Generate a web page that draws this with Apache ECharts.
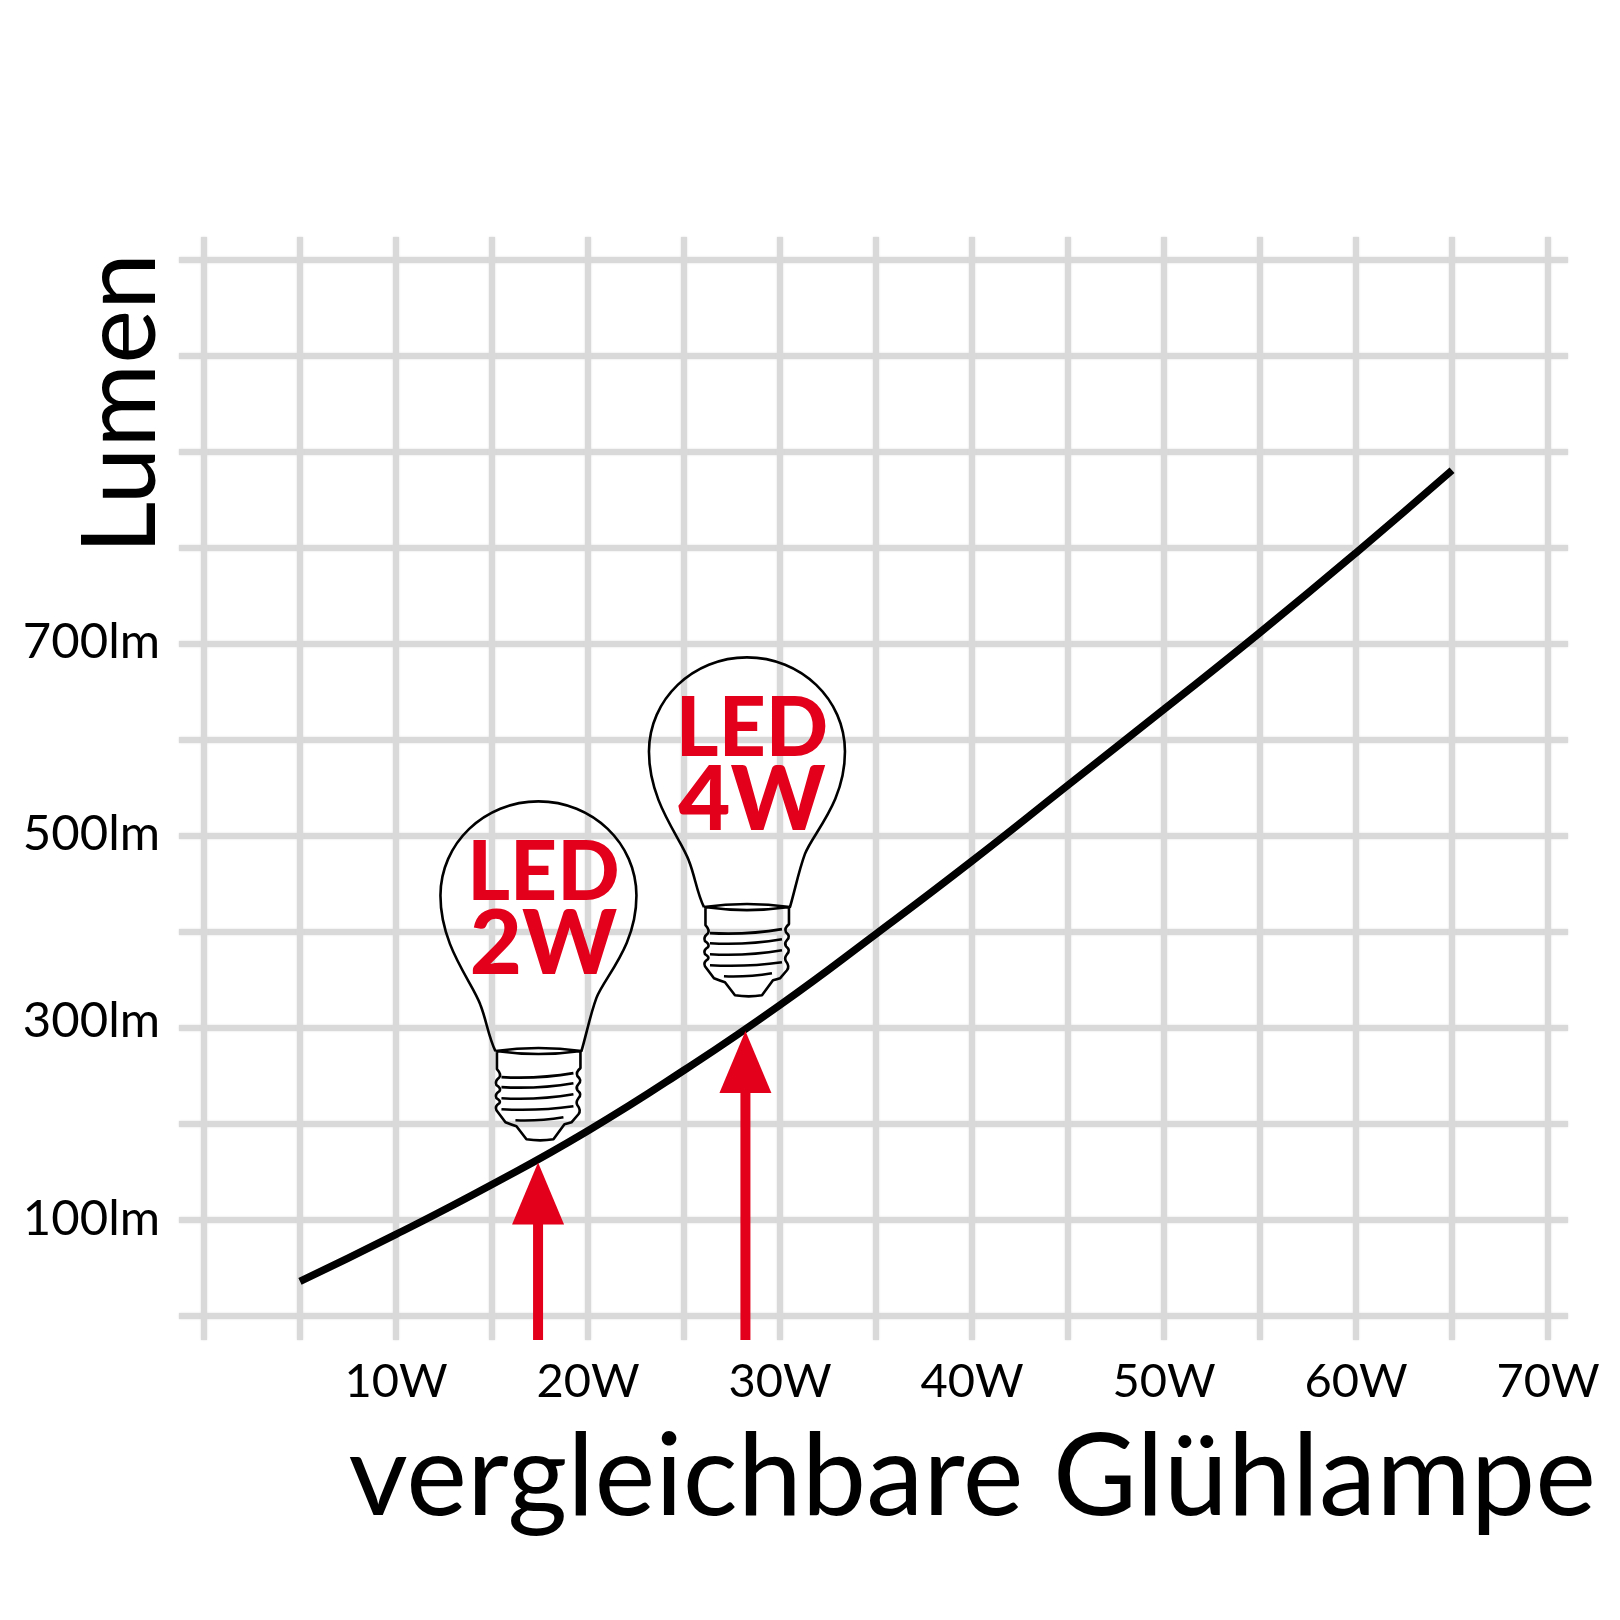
<!DOCTYPE html>
<html><head><meta charset="utf-8">
<style>html,body{margin:0;padding:0;background:#fff}#c{width:1620px;height:1620px}</style>
<script src="https://cdn.jsdelivr.net/npm/echarts@6/dist/echarts.min.js"></script>
</head><body><div id="c"></div>
<script>
const gridWatts=[0,5,10,15,20,25,30,35,40,45,50,55,60,65,70];
const gridLumen=[0,100,200,300,400,500,600,700,800,900,1000,1100];
const wattLabels=[10,20,30,40,50,60,70];
const lumenLabels=[100,300,500,700];
const curveWatts=[5,10,15,20,25,30,35,40,45,50,55,60,65];
const curveLumen=[36,85,137,193,256,324,398,474,553,632,712,795,881];
const arrowWatts=[17.4,28.2];
const arrowLumen=[160,297];
const bulbWatts=[17.42,28.28];
const bulbLumen=[183,333];
const bulbLine1=['LED','LED'];
const bulbLine2=['2W','4W'];
const RED='#e2001a', GRID='#d9d9d9', FONT='Lato';
const BULB='M-43 249C-50 235-52 218-58 203C-66 180-98 145-98 94C-98 42-54 0 0 0C54 0 98 42 98 94C98 145 66 175 58 196C52 212 48 232 43 249'
+'M-43 249Q0 243 43 249Q0 255-43 249'
+'M-41.5 250L-41.5 267Q-37 272-39 275Q-44 279-42 283Q-37 286-39 289Q-44 292-42 296Q-37 299-39 301Q-44 304-42 308L-33 320Q-28 322-22 324L-12 337Q2 339 15 337L26 322Q30 321 33 320L40 312Q43 308 39 303Q37 300 40 296Q44 292 39 288Q37 285 40 282Q44 278 39 274Q37 270 42 266L42 250'
+'M-37 275Q0 277 35 271M-37 285Q0 287 35 281M-37 296Q0 298 35 292M-37 307Q0 309 35 304M-23 318Q0 319 25 315';
const chart=echarts.init(document.getElementById('c'),null,{renderer:'canvas'});
const arrowData=arrowWatts.map((w,i)=>[w,arrowLumen[i]]);
const bulbData=bulbWatts.map((w,i)=>[w,bulbLumen[i],i]);
const tick={color:'#000',fontFamily:FONT,fontSize:49};
chart.setOption({
 animation:false,backgroundColor:'#fff',
 grid:{left:179,top:237,width:1389,height:1103,outerBoundsMode:'none',containLabel:false},
 xAxis:{type:'value',min:-1.3,max:71.04,
  axisLine:{show:false},
  axisTick:{show:false,customValues:gridWatts},
  splitLine:{show:true,lineStyle:{color:GRID,width:6,shadowColor:GRID,shadowBlur:2}},
  axisLabel:{customValues:wattLabels,formatter:v=>v+'W',margin:18,color:'#000',fontFamily:FONT,fontSize:47,hideOverlap:false},
  name:'vergleichbare Glühlampe',nameLocation:'end',nameGap:28,
  nameTextStyle:{color:'#000',fontFamily:FONT,fontSize:115,align:'right',verticalAlign:'top',padding:[104,0,0,0]}},
 yAxis:{type:'value',min:-25,max:1124,
  axisLine:{show:false},
  axisTick:{show:false,customValues:gridLumen},
  splitLine:{show:true,lineStyle:{color:GRID,width:6,shadowColor:GRID,shadowBlur:2}},
  axisLabel:{customValues:lumenLabels,formatter:v=>`{s${v}|${v}lm}`,margin:19,color:'#000',fontFamily:FONT,fontSize:49,
   rich:{s100:{...tick,padding:[0,0,2,0]},s300:{...tick,padding:[0,0,14,0]},s500:{...tick,padding:[0,0,4,0]},s700:{...tick,padding:[0,0,4,0]}}},
  name:'Lumen',nameLocation:'end',nameRotate:90,nameGap:-16,
  nameTextStyle:{color:'#000',fontFamily:FONT,fontSize:102,align:'right',verticalAlign:'bottom',padding:[0,0,31,0]}},
 series:[
  {type:'line',data:curveWatts.map((w,i)=>[w,curveLumen[i]]),smooth:0.5,showSymbol:false,silent:true,z:3,
   lineStyle:{color:'#000',width:7.5,cap:'butt'}},
  {type:'custom',data:arrowData,z:4,silent:true,
   renderItem(p,api){
    const t=api.coord([api.value(0),api.value(1)]);
    const b=p.coordSys.y+p.coordSys.height;
    return {type:'group',children:[
     {type:'rect',shape:{x:t[0]-5,y:t[1]+60,width:10,height:b-t[1]-60},style:{fill:RED}},
     {type:'polygon',shape:{points:[[t[0],t[1]],[t[0]+26,t[1]+62],[t[0]-26,t[1]+62]]},style:{fill:RED}}
    ]};
   }},
  {type:'custom',data:bulbData,z:5,silent:true,
   renderItem(p,api){
    const a=api.coord([api.value(0),api.value(1)]);
    const i=api.value(2), cx=a[0], top=a[1]-339;
    return {type:'group',children:[
     {type:'path',shape:{pathData:BULB,layout:'cover',x:cx-98,y:top,width:196,height:339},
      style:{fill:'none',stroke:'#000',lineWidth:2.6,lineJoin:'round'}},
     {type:'text',style:{text:bulbLine1[i],x:cx+5,y:top+72,fill:RED,font:'900 82px '+FONT,textAlign:'center',textVerticalAlign:'middle'}},
     {type:'text',style:{text:bulbLine2[i],x:cx+5,y:top+144,fill:RED,font:'900 90px '+FONT,textAlign:'center',textVerticalAlign:'middle'}}
    ]};
   }}
 ]
});
</script></body></html>
